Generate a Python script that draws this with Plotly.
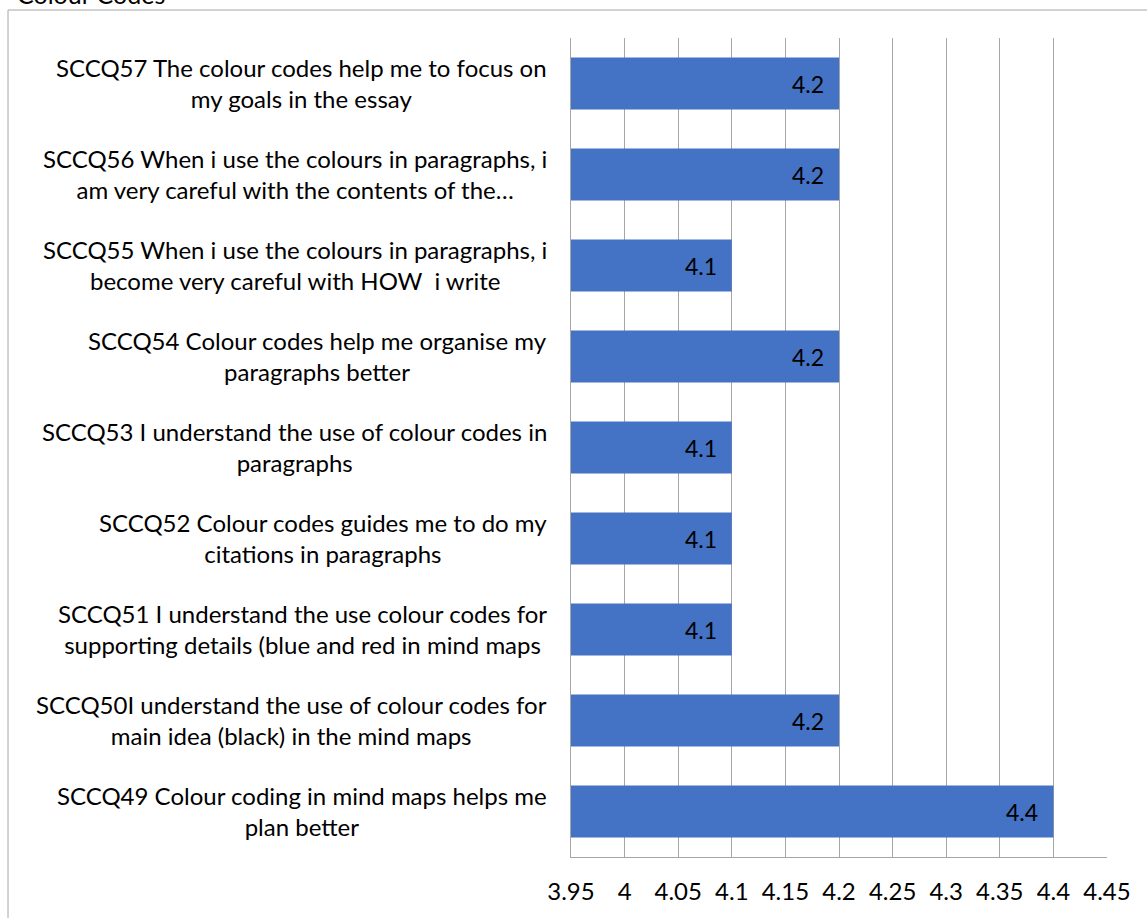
import plotly.graph_objects as go

# Data (top to bottom as shown)
categories = ["SCCQ57", "SCCQ56", "SCCQ55", "SCCQ54", "SCCQ53", "SCCQ52", "SCCQ51", "SCCQ50", "SCCQ49"]
labels = [
    "SCCQ57 The colour codes help me to focus on<br>my goals in the essay",
    "SCCQ56 When i use the colours in paragraphs, i<br>am very careful with the contents of the…",
    "SCCQ55 When i use the colours in paragraphs, i<br>become very careful with HOW  i write",
    "SCCQ54 Colour codes help me organise my<br>paragraphs better",
    "SCCQ53 I understand the use of colour codes in<br>paragraphs",
    "SCCQ52 Colour codes guides me to do my<br>citations in paragraphs",
    "SCCQ51 I understand the use colour codes for<br>supporting details (blue and red in mind maps",
    "SCCQ50I understand the use of colour codes for<br>main idea (black) in the mind maps",
    "SCCQ49 Colour coding in mind maps helps me<br>plan better",
]
values = [4.2, 4.2, 4.1, 4.2, 4.1, 4.1, 4.1, 4.2, 4.4]
tick_vals = [3.95, 4.0, 4.05, 4.1, 4.15, 4.2, 4.25, 4.3, 4.35, 4.4, 4.45]
tick_text = ["3.95", "4", "4.05", "4.1", "4.15", "4.2", "4.25", "4.3", "4.35", "4.4", "4.45"]
title = "Colour Codes"

W, H = 1147, 918
L, R, T, B = 571, 40, 38, 61
pw, ph = W - L - R, H - T - B

FONT = "Lato"
FS = 24
GRID = "#A6A6A6"

fig = go.Figure()
fig.add_trace(go.Bar(
    x=values, y=categories, orientation="h",
    marker=dict(color="#4472C4", line=dict(width=0)),
    width=0.57, hoverinfo="skip",
))

# data labels
for c, v in zip(categories, values):
    fig.add_annotation(x=v, y=c, xref="x", yref="y", text=f"{v:g}",
                       showarrow=False, xanchor="right", yanchor="middle",
                       xshift=-13, font=dict(family=FONT, size=FS - 1, color="#000000"))

# category labels
for c, t in zip(categories, labels):
    fig.add_annotation(x=0, y=c, xref="paper", yref="y", text=t,
                       showarrow=False, xanchor="right", yanchor="middle",
                       align="center", xshift=-22, yshift=1,
                       font=dict(family=FONT, size=FS, color="#000000"))

# title (cut off at top, as in the reference)
fig.add_annotation(x=(15 - L) / pw, y=(H - B - 11) / ph, xref="paper", yref="paper",
                   text=title, showarrow=False, xanchor="left", yanchor="bottom",
                   font=dict(family=FONT, size=FS + 1, color="#000000"))

# outer border
fig.add_shape(type="rect", xref="paper", yref="paper",
              x0=(8 - L) / pw, x1=(W + 20 - L) / pw,
              y0=-(B + 20) / ph, y1=(H - B - 10) / ph,
              line=dict(color=GRID, width=1), fillcolor="rgba(0,0,0,0)", layer="below")

fig.update_layout(
    width=W, height=H,
    margin=dict(l=L, r=R, t=T, b=B, pad=0, autoexpand=False),
    paper_bgcolor="white", plot_bgcolor="white",
    showlegend=False,
    font=dict(family=FONT, size=FS, color="#000000"),
    xaxis=dict(range=[3.95, 4.45], tickvals=tick_vals, ticktext=tick_text,
               showgrid=True, gridcolor=GRID, gridwidth=1,
               showline=True, linecolor=GRID, linewidth=1, automargin=False,
               zeroline=False, ticks="outside", ticklen=13, tickcolor="rgba(0,0,0,0)",
               tickfont=dict(family=FONT, size=FS, color="#000000"), fixedrange=True),
    yaxis=dict(categoryorder="array", categoryarray=categories, autorange="reversed",
               showticklabels=False, showgrid=False, automargin=False,
               showline=True, linecolor=GRID, linewidth=1,
               zeroline=False, ticks="", fixedrange=True),
)

fig.write_html("out.html")
